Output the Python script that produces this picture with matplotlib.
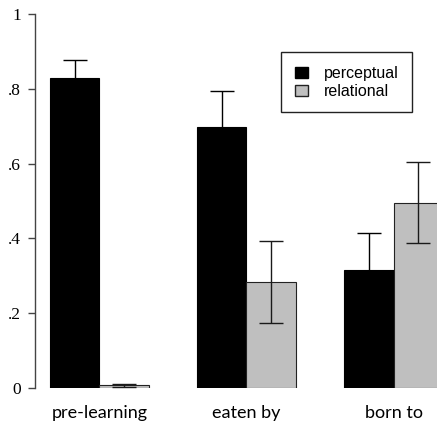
import numpy as np
import matplotlib.pyplot as plt
from matplotlib.patches import Patch

# data
groups = ["pre-learning", "eaten by", "born to"]
perceptual = [0.828, 0.697, 0.316]
perceptual_err = [0.049, 0.096, 0.099]
relational = [0.007, 0.283, 0.495]
relational_err = [0.003, 0.109, 0.108]

ytick_vals = [0, 0.2, 0.4, 0.6, 0.8, 1.0]
ytick_labels = ["0", ".2", ".4", ".6", ".8", "1"]

fig = plt.figure(figsize=(4.37, 4.26), dpi=100)
ax = fig.add_axes([0.080, 0.0892, 0.935, 0.878])

x = np.arange(len(groups))
w = 0.336
err_p = dict(ecolor="black", elinewidth=1.0, capsize=8.5, capthick=1.0)
err_r = dict(ecolor="#1a1a1a", elinewidth=1.0, capsize=8.5, capthick=1.0)

ax.bar(x - w / 2, perceptual, w, color="black", edgecolor="black",
       linewidth=0.8, yerr=perceptual_err, error_kw=err_p)
ax.bar(x + w / 2, relational, w, color="#bfbfbf", edgecolor="#222222",
       linewidth=0.8, yerr=relational_err, error_kw=err_r)

ax.set_xlim(-0.438, 2.34)
ax.set_ylim(0, 1)

for s in ["top", "right", "bottom"]:
    ax.spines[s].set_visible(False)
ax.spines["left"].set_color("#444444")
ax.spines["left"].set_linewidth(1.0)

ax.set_yticks(ytick_vals)
ax.set_yticklabels(ytick_labels, family="Liberation Serif", fontsize=12.5)
ax.tick_params(axis="y", length=5, width=1.0, color="#444444", pad=5)

ax.set_xticks(x)
ax.set_xticklabels(groups, family="Lato", fontsize=13)
ax.tick_params(axis="x", length=0, pad=12)

handles = [Patch(facecolor="black", edgecolor="black", label="perceptual"),
           Patch(facecolor="#bfbfbf", edgecolor="#222222", label="relational")]
leg = ax.legend(handles=handles, loc="upper left",
                bbox_to_anchor=(0.602, 0.898), fancybox=False,
                edgecolor="#222222", framealpha=1, borderpad=0.85,
                borderaxespad=0, handlelength=0.85, handleheight=0.7,
                handletextpad=1.0, labelspacing=0.2,
                prop={"family": "Liberation Sans", "size": 11.5})
leg.get_frame().set_linewidth(1.0)

fig.savefig("out.png", dpi=100)
